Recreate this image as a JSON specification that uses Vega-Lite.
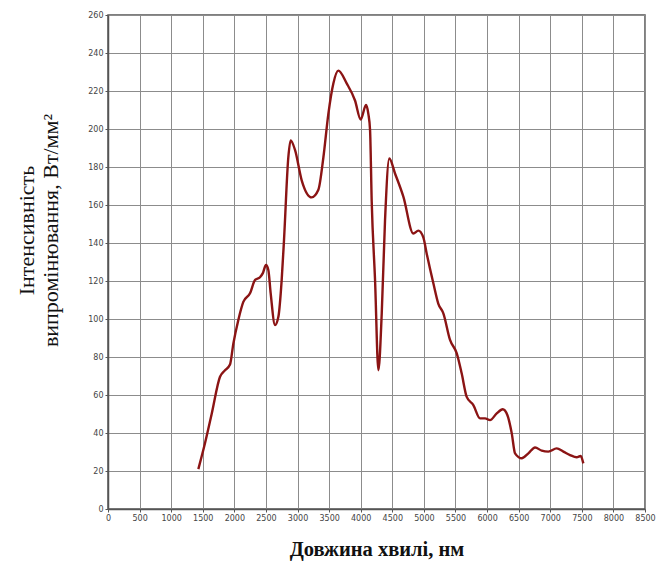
{
  "$schema": "https://vega.github.io/schema/vega-lite/v6.json",
  "width": 537,
  "height": 494,
  "autosize": "none",
  "padding": {"left": 108, "top": 15, "right": 14, "bottom": 55},
  "background": "white",
  "config": {
    "view": {"stroke": "#555555", "strokeWidth": 1.5},
    "axis": {
      "gridColor": "#8c8c8c",
      "gridWidth": 1,
      "gridOpacity": 1,
      "domainColor": "#555555",
      "domainWidth": 1.5,
      "tickColor": "#555555",
      "tickSize": 3,
      "labelColor": "#444444",
      "labelFont": "DejaVu Sans",
      "labelFontSize": 8,
      "labelPadding": 2
    }
  },
  "data": {
    "values": [
      {"x": 1430, "y": 21},
      {"x": 1535, "y": 34.6},
      {"x": 1641, "y": 50},
      {"x": 1773, "y": 69.6},
      {"x": 1852, "y": 73},
      {"x": 1931, "y": 76},
      {"x": 1984, "y": 87},
      {"x": 2063, "y": 99.5},
      {"x": 2142, "y": 109},
      {"x": 2248, "y": 113.5},
      {"x": 2327, "y": 120.5},
      {"x": 2406, "y": 122},
      {"x": 2449, "y": 124},
      {"x": 2501, "y": 128.4},
      {"x": 2538, "y": 125.8},
      {"x": 2575, "y": 113.5},
      {"x": 2644, "y": 96.8},
      {"x": 2696, "y": 101},
      {"x": 2749, "y": 120.5},
      {"x": 2786, "y": 141.6},
      {"x": 2854, "y": 185},
      {"x": 2891, "y": 194},
      {"x": 2960, "y": 189},
      {"x": 3066, "y": 173},
      {"x": 3224, "y": 164},
      {"x": 3330, "y": 168},
      {"x": 3409, "y": 185},
      {"x": 3488, "y": 208},
      {"x": 3567, "y": 224},
      {"x": 3646, "y": 230.7},
      {"x": 3778, "y": 224},
      {"x": 3910, "y": 215},
      {"x": 4000, "y": 205},
      {"x": 4084, "y": 212.6},
      {"x": 4121, "y": 208},
      {"x": 4148, "y": 199.5},
      {"x": 4174, "y": 162},
      {"x": 4227, "y": 120.5},
      {"x": 4280, "y": 73},
      {"x": 4333, "y": 103},
      {"x": 4385, "y": 152},
      {"x": 4453, "y": 184.5},
      {"x": 4543, "y": 176.6},
      {"x": 4675, "y": 164.4},
      {"x": 4833, "y": 145},
      {"x": 4912, "y": 146.5},
      {"x": 4991, "y": 143},
      {"x": 5044, "y": 134.5},
      {"x": 5150, "y": 118.8},
      {"x": 5229, "y": 108},
      {"x": 5308, "y": 103},
      {"x": 5414, "y": 89},
      {"x": 5519, "y": 82},
      {"x": 5598, "y": 71.4},
      {"x": 5678, "y": 59},
      {"x": 5783, "y": 54.7},
      {"x": 5889, "y": 47.7},
      {"x": 5968, "y": 47.7},
      {"x": 6047, "y": 46.8},
      {"x": 6153, "y": 50.3},
      {"x": 6248, "y": 52.5},
      {"x": 6321, "y": 49.5},
      {"x": 6391, "y": 39.8},
      {"x": 6443, "y": 29.3},
      {"x": 6549, "y": 26.7},
      {"x": 6654, "y": 29.3},
      {"x": 6760, "y": 32.4},
      {"x": 6865, "y": 30.7},
      {"x": 6970, "y": 30.2},
      {"x": 7102, "y": 31.9},
      {"x": 7208, "y": 30.2},
      {"x": 7313, "y": 28.4},
      {"x": 7419, "y": 27.2},
      {"x": 7482, "y": 27.9},
      {"x": 7524, "y": 24}
    ]
  },
  "mark": {"type": "line", "color": "#8b1414", "strokeWidth": 2.4, "interpolate": "monotone"},
  "encoding": {
    "x": {
      "field": "x",
      "type": "quantitative",
      "scale": {"domain": [0, 8500], "nice": false},
      "axis": {
        "values": [0, 500, 1000, 1500, 2000, 2500, 3000, 3500, 4000, 4500, 5000, 5500, 6000, 6500, 7000, 7500, 8000, 8500],
        "format": "d",
        "labelOverlap": false,
        "labelFlush": false,
        "title": "Довжина хвилі, нм",
        "titleFont": "Liberation Serif",
        "titleFontSize": 20.5,
        "titleFontWeight": "bold",
        "titleColor": "#111111",
        "titlePadding": 17
      }
    },
    "y": {
      "field": "y",
      "type": "quantitative",
      "scale": {"domain": [0, 260], "nice": false},
      "axis": {
        "values": [0, 20, 40, 60, 80, 100, 120, 140, 160, 180, 200, 220, 240, 260],
        "labelOverlap": false,
        "labelFlush": false,
        "title": ["Інтенсивність", "випромінювання, Вт/мм²"],
        "titleFont": "Liberation Serif",
        "titleFontSize": 22,
        "titleFontWeight": "normal",
        "titleColor": "#111111",
        "titleLineHeight": 24,
        "titleAngle": -90,
        "titleAlign": "center",
        "titleBaseline": "top",
        "titleX": -92,
        "titleY": 215
      }
    }
  }
}
